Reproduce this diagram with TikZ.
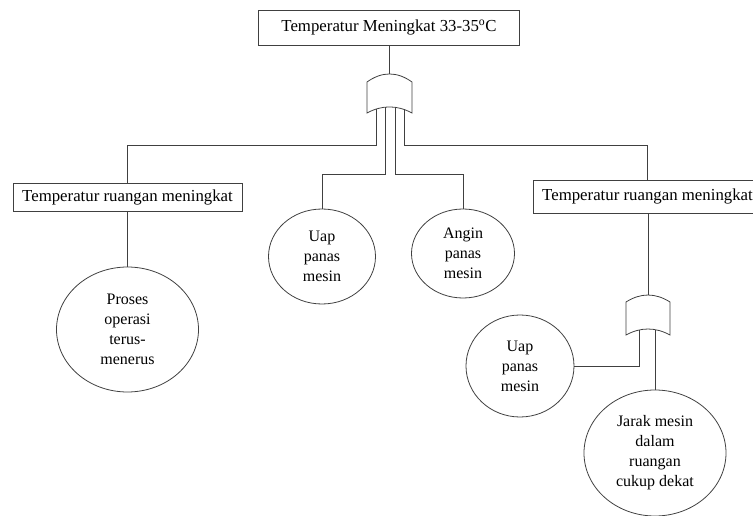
\documentclass[tikz,border=0pt]{standalone}
\usepackage{fontspec}
\setmainfont{Liberation Serif}
\usetikzlibrary{shapes.geometric}
\begin{document}
\begin{tikzpicture}[x=1pt,y=-1pt,
  ln/.style={draw=black!75, line width=0.8pt},
  box/.style={ln, rectangle, inner sep=0, font=\fontsize{16.8}{19}\selectfont},
  ev/.style={ln, ellipse, inner sep=0, align=center, font=\fontsize{16}{20}\selectfont},
  gate/.style={inner sep=0, minimum width=45pt, minimum height=39pt}]
\useasboundingbox (0,0) rectangle (753,516);
% boxes
\node[box, minimum width=261pt, minimum height=35pt] (top) at (389,27.5) {Temperatur Meningkat 33-35\textsuperscript{o}C};
\node[box, minimum width=229pt, minimum height=28pt] (lb) at (127.5,197) {Temperatur ruangan meningkat};
\node[box, minimum width=229pt, minimum height=33pt] (rb) at (647.5,196.5) {Temperatur ruangan meningkat};
% gates
\node[gate] (g1) at (389.5,93.5) {};
\draw[ln] (367,113) -- (367,82) .. controls (382,71.3) and (397,71.3) .. (412,82) -- (412,113) .. controls (397,104.9) and (382,104.9) .. (367,113) -- cycle;
\node[gate, minimum height=40pt] (g2) at (648,315) {};
\draw[ln] (626,335) -- (626,302) .. controls (640.7,292.7) and (655.3,292.7) .. (670,302) -- (670,335) .. controls (655.3,327) and (640.7,327) .. (626,335) -- cycle;
% events
\node[ev, minimum width=142pt, minimum height=125pt] (e1) at (127.5,329.5) {Proses\\operasi\\terus-\\menerus};
\node[ev, minimum width=107pt, minimum height=95pt] (e2) at (322,256.5) {Uap\\panas\\mesin};
\node[ev, minimum width=103pt, minimum height=89pt] (e3) at (463,253.5) {Angin\\panas\\mesin};
\node[ev, minimum width=108pt, minimum height=102pt] (e4) at (520,366) {Uap\\panas\\mesin};
\node[ev, minimum width=142pt, minimum height=126pt] (e5) at (655,453) {Jarak mesin\\dalam\\ruangan\\cukup dekat};
% gate outputs and joints
\coordinate (g1a) at (376,109.3);
\coordinate (g1b) at (385,107.3);
\coordinate (g1c) at (395,107.3);
\coordinate (g1d) at (404,109.3);
\coordinate (g2a) at (639,330.3);
\coordinate (g2b) at (655,330.3);
\coordinate (jl) at (127.5,145);
\coordinate (jr) at (647.5,145);
\coordinate (kl) at (322,174);
\coordinate (kr) at (463,174);
% connectors
\draw[ln] (top.south -| g1.north) -- (g1.north);
\draw[ln] (g1a) |- (jl) -- (lb.north);
\draw[ln] (g1d) |- (jr) -- (rb.north);
\draw[ln] (g1b) |- (kl) -- (e2.north);
\draw[ln] (g1c) |- (kr) -- (e3.north);
\draw[ln] (lb.south) -- (e1.north);
\draw[ln] (rb.south -| g2.north) -- (g2.north);
\draw[ln] (g2a) |- (e4.east);
\draw[ln] (g2b) -- (e5.north);
\end{tikzpicture}
\end{document}
